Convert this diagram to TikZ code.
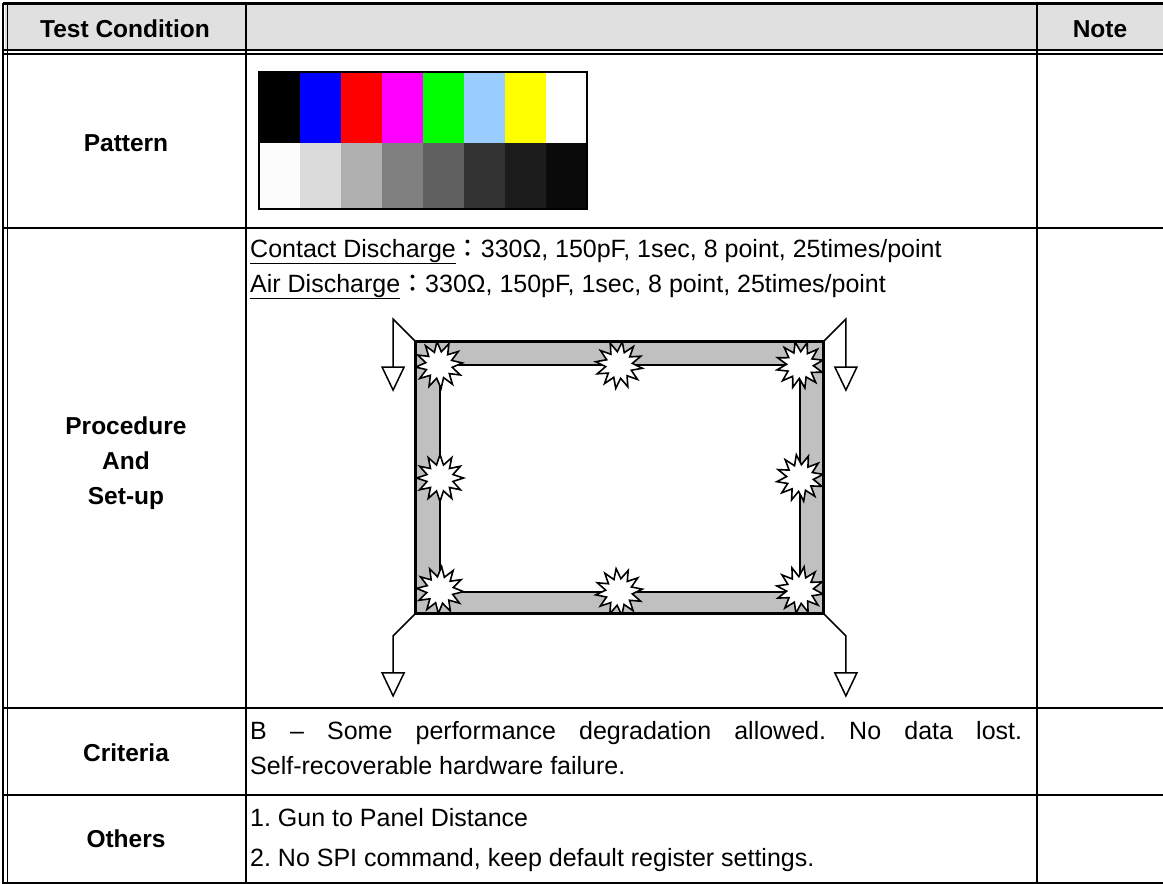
\documentclass[tikz,border=0pt]{standalone}
\usepackage{fontspec}
\setmainfont{Liberation Sans}
\newfontfamily\cjk{Noto Sans CJK TC}
\usetikzlibrary{positioning, shapes.geometric}

\definecolor{barblue}{RGB}{0,0,255}
\definecolor{barred}{RGB}{255,0,0}
\definecolor{barmag}{RGB}{255,0,255}
\definecolor{bargreen}{RGB}{0,255,0}
\definecolor{barsky}{HTML}{99CCFF}
\definecolor{baryellow}{RGB}{255,255,0}
\definecolor{headgray}{HTML}{E0E0E0}
\definecolor{bezelgray}{HTML}{C0C0C0}

\begin{document}
\frenchspacing
\begin{tikzpicture}[x=1pt, y=-1pt]
    % Styles
    \tikzstyle{rowhead} = [font=\fontsize{24.5}{29}\selectfont\bfseries, anchor=base, inner sep=0]
    \tikzstyle{body} = [font=\fontsize{25}{30}\selectfont, anchor=base west, inner sep=0]
    \tikzstyle{tableline} = [line width=2.2pt]
    \tikzstyle{bezel} = [draw, line width=1.8pt, fill=bezelgray, minimum width=407pt, minimum height=271pt, inner sep=0]
    \tikzstyle{screen} = [draw, line width=1.8pt, fill=white, minimum width=360pt, minimum height=227pt, inner sep=0]
    \tikzstyle{spark} = [star, star points=12, star point ratio=1.75, draw, line width=1.6pt, fill=white, minimum size=47pt, inner sep=0]
    \tikzstyle{lead} = [line width=1.5pt]

    \useasboundingbox (0,0) rectangle (1163,884);

    % Table
    \fill[headgray] (5,4) rectangle (1163,50);
    \draw[line width=3pt] (3,3) -- (1163,3);
    \draw[line width=1.5pt] (3,3) -- (3,884) (7.5,3) -- (7.5,884);
    \draw[line width=1.6pt] (3,50) -- (1163,50) (3,54) -- (1163,54);
    \foreach \y in {228, 708, 795, 883}
        \draw[tableline] (3,\y) -- (1163,\y);
    \foreach \x in {246, 1037}
        \draw[tableline] (\x,3) -- (\x,884);

    % Row headers
    \node[rowhead] (hcond) at (125,37) {Test Condition};
    \node[rowhead] (hnote) at (1100,37) {Note};
    \node[rowhead] (pattern) at (126,151) {Pattern};
    \node[rowhead] (proc) at (126,434) {Procedure};
    \node[rowhead] (and) at (126,469) {And};
    \node[rowhead] (setup) at (126,504) {Set-up};
    \node[rowhead] (criteria) at (126,761) {Criteria};
    \node[rowhead] (others) at (126,847) {Others};

    % Pattern
    \foreach \col [count=\i from 0] in {black, barblue, barred, barmag, bargreen, barsky, baryellow, white}
        \fill[\col] (259+41*\i,72) rectangle ++(41,71);
    \foreach \k [count=\i from 0] in {1, 14, 31, 50, 62, 80, 89, 96}
        \fill[black!\k] (259+41*\i,143) rectangle ++(41,66);
    \draw[line width=2pt] (259,72) rectangle (587,209);

    % Texts
    \node[body] (contact) at (250,257) {\underline{Contact Discharge}{\cjk ：}330Ω, 150pF, 1sec, 8 point, 25times/point};
    \node[body] (air) at (250,292) {\underline{Air Discharge}{\cjk ：}330Ω, 150pF, 1sec, 8 point, 25times/point};
    \node[body] (crit1) at (250,739) {\makebox[772pt][s]{B – Some performance degradation allowed. No data lost.}};
    \node[body] (crit2) at (250,774) {Self-recoverable hardware failure.};
    \node[body] (oth1) at (250,826) {1. Gun to Panel Distance};
    \node[body] (oth2) at (250,866) {2. No SPI command, keep default register settings.};

    % Panel
    \node[bezel] (bezel) at (619.5,477.5) {};
    \node[screen] (screen) at (620,478.5) {};
    \begin{scope}
        \clip (bezel.north west) rectangle (bezel.south east);
        \foreach \n/\x/\y/\r in {tl/439/365/5, tm/619/365/-8, tr/800/365/12, ml/440/478/0,
                                 mr/800/478/9, bl/440/590/-4, bm/619/592/7, br/800/590/-10}
            \node[spark, rotate=\r] (s\n) at (\x,\y) {};
    \end{scope}
    \draw[line width=1.8pt] (bezel.north west) rectangle (bezel.south east);

    % Grounds
    \foreach \c/\sx/\sy/\len in {north west/-1/-1/48, north east/1/-1/48, south west/-1/1/37, south east/1/1/37} {
        \draw[lead] (bezel.\c) -- ++(22*\sx,22*\sy) -- ++(0,\len) coordinate (gnd);
        \draw[lead] (gnd) ++(-11,0) -- ++(22,0) -- ++(-11,23) -- cycle;
    }
\end{tikzpicture}
\end{document}
